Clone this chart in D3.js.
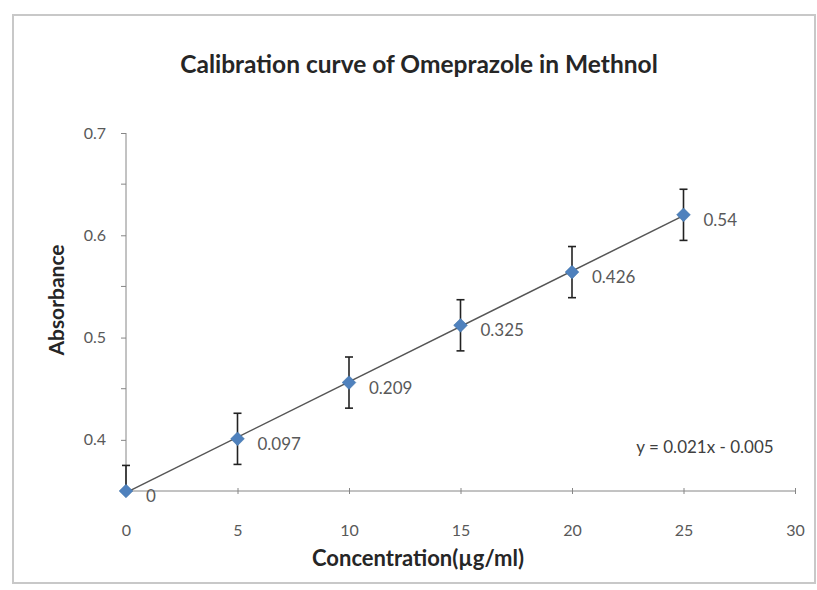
<!DOCTYPE html>
<html>
<head>
<meta charset="utf-8">
<script src="https://cdn.jsdelivr.net/npm/d3@7"></script>
<style>
  body { margin: 0; background: #fff; }
  text { font-family: Lato, "Open Sans", sans-serif; }
</style>
</head>
<body>
<svg id="chart" width="817" height="590"></svg>
<script>
// data
var concentration = [0, 5, 10, 15, 20, 25];
var absorbance = [0.35, 0.401, 0.456, 0.512, 0.564, 0.62];
var errorSize = [0.025, 0.025, 0.025, 0.025, 0.025, 0.025];
var pointLabels = ["0", "0.097", "0.209", "0.325", "0.426", "0.54"];
var xTicks = [0, 5, 10, 15, 20, 25, 30];
var yTicks = [0.4, 0.5, 0.6, 0.7];
var yMinorTicks = [0.45, 0.55, 0.65];
var equation = "y = 0.021x - 0.005";

var svg = d3.select("#chart");

// outer chart frame
svg.append("rect")
    .attr("x", 13).attr("y", 15)
    .attr("width", 802).attr("height", 568)
    .attr("fill", "#fff")
    .attr("stroke", "#c8c8c8")
    .attr("stroke-width", 2);

var plotLeft = 126, plotRight = 795, plotTop = 133, plotBottom = 491;

var x = d3.scaleLinear().domain([0, 30]).range([plotLeft, plotRight]);
var y = d3.scaleLinear().domain([0.35, 0.7]).range([plotBottom, plotTop]);

// title
svg.append("text")
    .attr("x", 419).attr("y", 73)
    .attr("text-anchor", "middle")
    .attr("font-size", 24.5)
    .attr("font-weight", "bold")
    .attr("fill", "#262626")
    .text("Calibration curve of Omeprazole in Methnol");

// y axis
var yAxis = svg.append("g")
    .attr("transform", "translate(" + plotLeft + ",0)")
    .call(d3.axisLeft(y).tickValues(yTicks).tickSize(5).tickPadding(15).tickFormat(d3.format(".1f")));
yAxis.selectAll("line.minor")
    .data(yMinorTicks).enter()
    .append("line")
    .attr("class", "minor")
    .attr("x1", -5).attr("x2", 0)
    .attr("y1", d => y(d)).attr("y2", d => y(d))
    .attr("stroke", "#868686");
yAxis.select(".domain").attr("stroke", "#868686").attr("d", "M0," + plotTop + "V" + plotBottom);
yAxis.selectAll(".tick line").attr("stroke", "#868686");
yAxis.selectAll(".tick text")
    .attr("font-size", 16)
    .attr("fill", "#595959")
    .style("font-family", "Lato, sans-serif");

// x axis
var xAxis = svg.append("g")
    .attr("transform", "translate(0," + plotBottom + ")")
    .call(d3.axisBottom(x).tickValues(xTicks).tickSize(3).tickPadding(31));
xAxis.select(".domain").attr("stroke", "#868686").attr("d", "M" + plotLeft + ",0H" + plotRight);
xAxis.selectAll(".tick line").attr("y1", -3).attr("stroke", "#868686");
xAxis.selectAll(".tick text")
    .attr("font-size", 16)
    .attr("fill", "#595959")
    .style("font-family", "Lato, sans-serif");

// axis titles
svg.append("text")
    .attr("transform", "translate(64,300) rotate(-90)")
    .attr("text-anchor", "middle")
    .attr("font-size", 21)
    .attr("font-weight", "bold")
    .attr("fill", "#262626")
    .text("Absorbance");

svg.append("text")
    .attr("x", 418).attr("y", 566)
    .attr("text-anchor", "middle")
    .attr("font-size", 22)
    .attr("font-weight", "bold")
    .attr("fill", "#262626")
    .text("Concentration(µg/ml)");

// linear trend line (least squares through the points)
var mx = d3.mean(concentration), my = d3.mean(absorbance);
var slope = d3.sum(concentration, (c, i) => (c - mx) * (absorbance[i] - my)) /
            d3.sum(concentration, c => (c - mx) * (c - mx));
var intercept = my - slope * mx;
var xExtent = d3.extent(concentration);

svg.append("line")
    .attr("x1", x(xExtent[0])).attr("y1", y(slope * xExtent[0] + intercept))
    .attr("x2", x(xExtent[1])).attr("y2", y(slope * xExtent[1] + intercept))
    .attr("stroke", "#555")
    .attr("stroke-width", 1.5);

// clip for error bars (Excel cuts them at the plot area)
svg.append("clipPath").attr("id", "plot")
    .append("rect")
    .attr("x", plotLeft - 10).attr("y", plotTop)
    .attr("width", plotRight - plotLeft + 20).attr("height", plotBottom - plotTop);

var points = concentration.map((c, i) => ({ x: c, y: absorbance[i], e: errorSize[i], label: pointLabels[i] }));

var err = svg.append("g").attr("clip-path", "url(#plot)")
    .selectAll("g")
    .data(points).enter()
    .append("g")
    .attr("stroke", "#222")
    .attr("stroke-width", 1.6);
err.append("line")
    .attr("x1", d => x(d.x)).attr("x2", d => x(d.x))
    .attr("y1", d => y(d.y + d.e)).attr("y2", d => y(d.y - d.e));
err.append("line")
    .attr("x1", d => x(d.x) - 4).attr("x2", d => x(d.x) + 4)
    .attr("y1", d => y(d.y + d.e)).attr("y2", d => y(d.y + d.e));
err.append("line")
    .attr("x1", d => x(d.x) - 4).attr("x2", d => x(d.x) + 4)
    .attr("y1", d => y(d.y - d.e)).attr("y2", d => y(d.y - d.e));

// diamond markers
svg.append("g").selectAll("path")
    .data(points).enter()
    .append("path")
    .attr("transform", d => "translate(" + x(d.x) + "," + y(d.y) + ")")
    .attr("d", d3.symbol().type(d3.symbolDiamond2).size(120))
    .attr("fill", "#4F81BD")
    .attr("stroke", "#3a6ea5")
    .attr("stroke-width", 0.5);

// data labels
svg.append("g").selectAll("text")
    .data(points).enter()
    .append("text")
    .attr("x", d => x(d.x) + 20)
    .attr("y", d => y(d.y) + 11)
    .attr("font-size", 17)
    .attr("fill", "#595959")
    .text(d => d.label);

// equation
svg.append("text")
    .attr("x", 705).attr("y", 453)
    .attr("text-anchor", "middle")
    .attr("font-size", 17)
    .attr("fill", "#404040")
    .text(equation);
</script>
</body>
</html>
